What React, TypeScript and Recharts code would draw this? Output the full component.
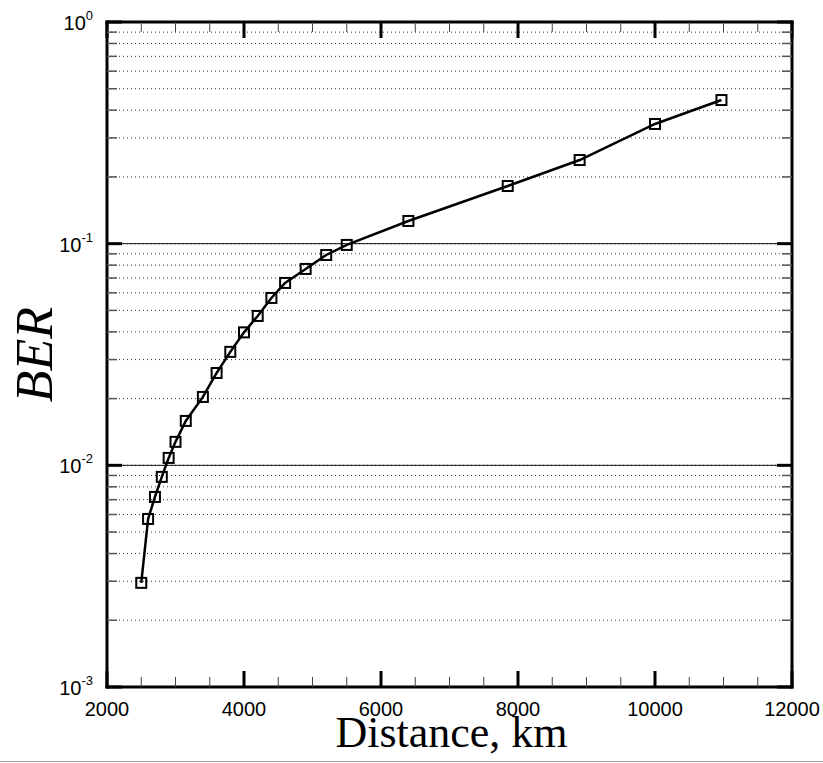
import { LineChart, Line, XAxis, YAxis, CartesianGrid, ReferenceLine } from "recharts";

// BER vs distance
const distanceKm = [
  2500, 2600, 2700, 2800, 2900, 3000, 3150, 3400, 3600, 3800, 4000,
  4200, 4400, 4600, 4900, 5200, 5500, 6400, 7850, 8900, 10000, 10970,
];
const berValues = [
  0.00295, 0.00573, 0.0072, 0.00887, 0.0108, 0.01276, 0.01586, 0.02035, 0.0261, 0.0325, 0.0398,
  0.0472, 0.0569, 0.0665, 0.0769, 0.0889, 0.0987, 0.1266, 0.182, 0.2384, 0.3467, 0.4446,
];

const xTicks = [
  2000, 2500, 3000, 3500, 4000, 4500, 5000, 5500, 6000, 6500, 7000,
  7500, 8000, 8500, 9000, 9500, 10000, 10500, 11000, 11500, 12000,
];
const xLabelTicks = [2000, 4000, 6000, 8000, 10000, 12000];

const yTicks = [
  0.001, 0.002, 0.003, 0.004, 0.005, 0.006, 0.007, 0.008, 0.009,
  0.01, 0.02, 0.03, 0.04, 0.05, 0.06, 0.07, 0.08, 0.09,
  0.1, 0.2, 0.3, 0.4, 0.5, 0.6, 0.7, 0.8, 0.9, 1,
];
const yDecades = [0.001, 0.01, 0.1, 1];
const yExponents = ["-3", "-2", "-1", "0"];
const solidGridLines = [0.01, 0.1];

const data = distanceKm.map((d, i) => ({ distance: d, ber: berValues[i] }));

const SANS = "'Liberation Sans', Arial, sans-serif";
const SERIF = "'Liberation Serif', 'Times New Roman', serif";

function BottomTick({ x, y, payload }: any) {
  const major = xLabelTicks.includes(payload.value);
  return (
    <g>
      <line
        x1={x}
        x2={x}
        y1={y}
        y2={y - (major ? 16 : 10)}
        stroke={major ? "#000" : "#444"}
        strokeWidth={major ? 3 : 1}
      />
      {major && (
        <text x={x} y={y + 29} textAnchor="middle" fontSize={20} fontFamily={SANS} fill="#000">
          {payload.value}
        </text>
      )}
    </g>
  );
}

function TopTick({ x, y, payload }: any) {
  const major = xLabelTicks.includes(payload.value);
  return (
    <line
      x1={x}
      x2={x}
      y1={y}
      y2={y + (major ? 16 : 10)}
      stroke={major ? "#000" : "#444"}
      strokeWidth={major ? 3 : 1}
    />
  );
}

function LeftTick({ x, y, payload }: any) {
  const i = yDecades.indexOf(payload.value);
  const major = i >= 0;
  return (
    <g>
      <line
        x1={x}
        x2={x + (major ? 15 : 10)}
        y1={y}
        y2={y}
        stroke={major ? "#000" : "#555"}
        strokeWidth={major ? 3 : 1.5}
      />
      {major && (
        <text x={x - 14} y={y + 8} textAnchor="end" fontSize={20} fontFamily={SANS} fill="#000">
          10
          <tspan dy={-10} fontSize={13}>
            {yExponents[i]}
          </tspan>
        </text>
      )}
    </g>
  );
}

function RightTick({ x, y, payload }: any) {
  const major = yDecades.includes(payload.value);
  return (
    <line
      x1={x}
      x2={x - (major ? 15 : 10)}
      y1={y}
      y2={y}
      stroke={major ? "#000" : "#555"}
      strokeWidth={major ? 3 : 1.5}
    />
  );
}

function SquareDot({ cx, cy, index }: any) {
  return (
    <rect
      key={index}
      x={cx - 5}
      y={cy - 5}
      width={10}
      height={10}
      fill="none"
      stroke="#000"
      strokeWidth={2}
    />
  );
}

const frame = { stroke: "#000", strokeWidth: 3, strokeLinecap: "square" as const };

export default function App() {
  return (
    <div style={{ position: "absolute", left: 0, top: 0, width: 823, height: 763, background: "#fff" }}>
      <LineChart width={823} height={763} data={data} margin={{ top: 21, right: 30, left: 0, bottom: 0 }}>
        <CartesianGrid
          xAxisId="bottom"
          yAxisId="left"
          vertical={false}
          stroke="#333"
          strokeDasharray="1 3"
        />
        <XAxis
          xAxisId="bottom"
          dataKey="distance"
          type="number"
          domain={[2000, 12000]}
          ticks={xTicks}
          interval={0}
          height={76}
          tickSize={0}
          tickMargin={0}
          tickLine={false}
          axisLine={frame}
          tick={<BottomTick />}
          label={{
            content: ({ viewBox }: any) => (
              <text
                x={viewBox.x + viewBox.width / 2 + 2}
                y={viewBox.y + 60}
                textAnchor="middle"
                fontSize={44}
                fontFamily={SERIF}
                fill="#000"
              >
                Distance, km
              </text>
            ),
          }}
        />
        <XAxis
          xAxisId="top"
          orientation="top"
          dataKey="distance"
          type="number"
          domain={[2000, 12000]}
          ticks={xTicks}
          interval={0}
          height={1}
          tickSize={0}
          tickMargin={0}
          tickLine={false}
          axisLine={frame}
          tick={<TopTick />}
        />
        <YAxis
          yAxisId="left"
          scale="log"
          type="number"
          domain={[0.001, 1]}
          allowDataOverflow
          ticks={yTicks}
          interval={0}
          width={107}
          tickSize={0}
          tickMargin={0}
          tickLine={false}
          axisLine={frame}
          tick={<LeftTick />}
          label={{
            content: ({ viewBox }: any) => {
              const cy = viewBox.y + viewBox.height / 2;
              return (
                <text
                  x={52}
                  y={cy}
                  transform={`rotate(-90 52 ${cy})`}
                  textAnchor="middle"
                  fontSize={52}
                  fontStyle="italic"
                  fontFamily={SERIF}
                  fill="#000"
                >
                  BER
                </text>
              );
            },
          }}
        />
        <YAxis
          yAxisId="right"
          orientation="right"
          scale="log"
          type="number"
          domain={[0.001, 1]}
          allowDataOverflow
          ticks={yTicks}
          interval={0}
          width={1}
          tickSize={0}
          tickMargin={0}
          tickLine={false}
          axisLine={frame}
          tick={<RightTick />}
        />
        {solidGridLines.map((v) => (
          <ReferenceLine key={v} xAxisId="bottom" yAxisId="left" y={v} stroke="#111" strokeWidth={1} />
        ))}
        <Line
          xAxisId="bottom"
          yAxisId="left"
          dataKey="ber"
          type="linear"
          stroke="#000"
          strokeWidth={2.5}
          dot={<SquareDot />}
          isAnimationActive={false}
        />
      </LineChart>
      <div style={{ position: "absolute", left: 0, top: 761, width: 823, height: 1, background: "#a0a0a0" }} />
    </div>
  );
}
